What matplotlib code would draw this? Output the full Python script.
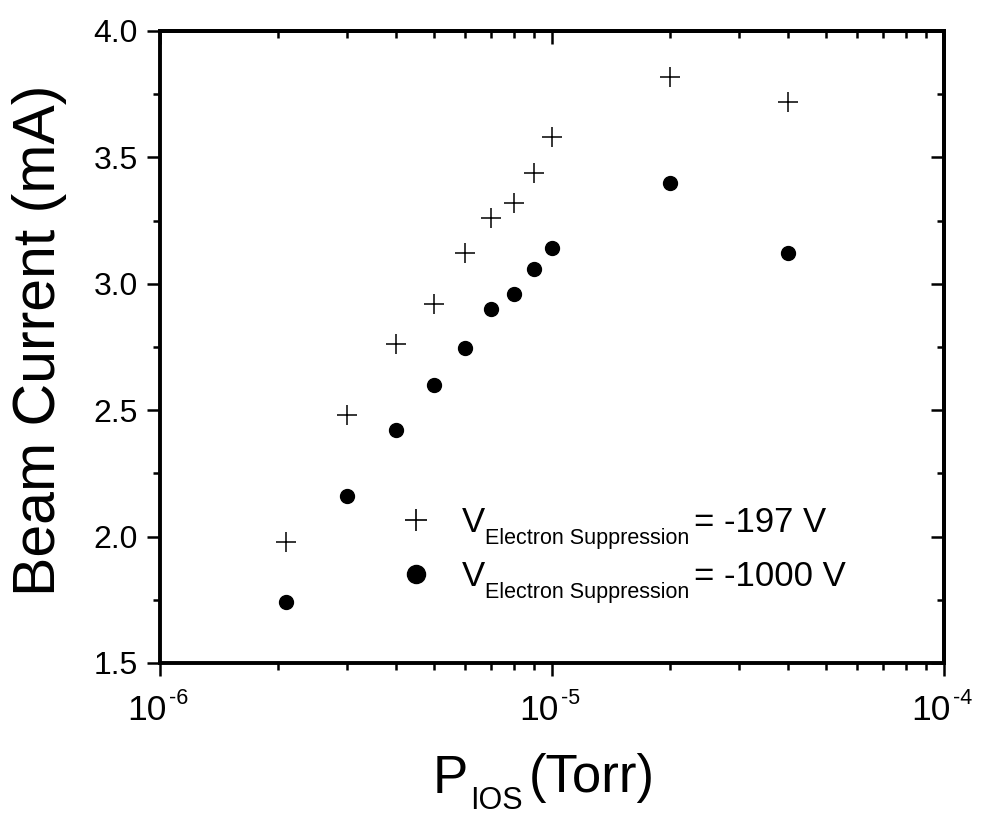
import matplotlib
matplotlib.use("Agg")
import matplotlib.pyplot as plt
from matplotlib.ticker import MultipleLocator, NullFormatter, FixedLocator, LogLocator, FormatStrFormatter
from matplotlib.lines import Line2D

plt.rcParams['font.family'] = ['Liberation Sans', 'DejaVu Sans']

# ---- data ----
pressure = [2.1e-6, 3e-6, 4e-6, 5e-6, 6e-6, 7e-6, 8e-6, 9e-6, 1e-5, 2e-5, 4e-5]
current_197 = [1.98, 2.48, 2.76, 2.92, 3.12, 3.26, 3.32, 3.44, 3.58, 3.82, 3.72]
current_1000 = [1.74, 2.16, 2.42, 2.60, 2.745, 2.90, 2.96, 3.06, 3.14, 3.40, 3.12]
x_ticks = [1e-6, 1e-5, 1e-4]
x_tick_exps = ['-6', '-5', '-4']
legend_sub = 'Electron Suppression'
legend_values = ['= -197 V', '= -1000 V']

W, H = 981, 816
fig = plt.figure(figsize=(W / 100, H / 100), dpi=100)
ax = fig.add_axes([160 / W, 1 - 663 / H, 784 / W, 632 / H])

ax.plot(pressure, current_197, linestyle='none', marker='+', markersize=14.5,
        markeredgewidth=1.1, color='black')
ax.plot(pressure, current_1000, linestyle='none', marker='o', markersize=10,
        color='black')

ax.set_xscale('log')
ax.set_xlim(1e-6, 1e-4)
ax.set_ylim(1.5, 4.0)
ax.xaxis.set_major_locator(FixedLocator(x_ticks))
ax.xaxis.set_minor_locator(LogLocator(base=10, subs=range(2, 10)))
ax.xaxis.set_major_formatter(NullFormatter())
ax.xaxis.set_minor_formatter(NullFormatter())
ax.yaxis.set_major_locator(MultipleLocator(0.5))
ax.yaxis.set_minor_locator(MultipleLocator(0.25))
ax.yaxis.set_major_formatter(FormatStrFormatter('%.1f'))

spw = 2.8
for s in ax.spines.values():
    s.set_linewidth(spw)
ax.tick_params(which='both', direction='out', top=False, right=False, width=1.8)
ax.tick_params(which='major', length=9.4)
ax.tick_params(which='minor', length=5)
ax.tick_params(axis='y', labelsize=23, pad=6.5)

# top / right inward ticks
secx = ax.secondary_xaxis('top')
secx.xaxis.set_major_locator(FixedLocator(x_ticks))
secx.xaxis.set_minor_locator(LogLocator(base=10, subs=range(2, 10)))
secx.xaxis.set_major_formatter(NullFormatter())
secx.xaxis.set_minor_formatter(NullFormatter())
secx.tick_params(which='both', direction='in', width=1.8)
secx.tick_params(which='major', length=9.4)
secx.tick_params(which='minor', length=5)
for s in secx.spines.values():
    s.set_linewidth(spw)

secy = ax.secondary_yaxis('right')
secy.yaxis.set_major_locator(MultipleLocator(0.5))
secy.yaxis.set_minor_locator(MultipleLocator(0.25))
secy.yaxis.set_major_formatter(NullFormatter())
secy.tick_params(which='both', direction='in', width=1.8)
secy.tick_params(which='major', length=9.4)
secy.tick_params(which='minor', length=5)
for s in secy.spines.values():
    s.set_linewidth(spw)

# x tick labels: 10^n
for v, e in zip(x_ticks, x_tick_exps):
    base = ax.annotate('10', xy=(v, 0), xycoords=('data', 'axes fraction'),
                       xytext=(-9.4, -22.5), textcoords='offset points',
                       ha='center', va='top', fontsize=25.5, annotation_clip=False)
    ax.annotate(e, xy=(1, 1), xycoords=base, xytext=(2, 4.3),
                textcoords='offset points', ha='left', va='top', fontsize=15.5,
                annotation_clip=False)

# y label
ax.set_ylabel('Beam Current (mA)', fontsize=42.5)
ax.yaxis.set_label_coords(-0.1186, 0.511)

# x label: P_IOS (Torr)
p = fig.text(433 / W, (H - 793) / H, 'P', fontsize=38, ha='left', va='baseline')
sub = ax.annotate('IOS', xy=(1, 0), xycoords=p, xytext=(1.5, -3.6),
                  textcoords='offset points', ha='left', va='baseline',
                  fontsize=22, annotation_clip=False)
ax.annotate('(Torr)', xy=(1, 1), xycoords=sub, xytext=(4, -4.3),
            textcoords='offset points', ha='left', va='baseline',
            fontsize=38, annotation_clip=False)

# legend
handles = [Line2D([], [], linestyle='none', marker='+', markersize=16,
                  markeredgewidth=1.2, color='black'),
           Line2D([], [], linestyle='none', marker='o', markersize=13,
                  color='black')]
leg = ax.legend(handles, ['V', 'V'], loc='upper left',
                bbox_to_anchor=(0.3043, 0.2484), frameon=False, fontsize=25,
                handlelength=1.0, handletextpad=0.83, labelspacing=0.6,
                borderpad=0, borderaxespad=0)
for t, val in zip(leg.get_texts(), legend_values):
    s = ax.annotate(legend_sub, xy=(1, 0), xycoords=t, xytext=(0, -3.6),
                    textcoords='offset points', ha='left', va='baseline',
                    fontsize=15.5, zorder=6, annotation_clip=False)
    ax.annotate(val, xy=(1, 1), xycoords=s, xytext=(3.6, -2.9),
                textcoords='offset points', ha='left', va='baseline',
                fontsize=25, zorder=7, annotation_clip=False)

fig.canvas.draw()
fig.savefig('out.png', dpi=100)
